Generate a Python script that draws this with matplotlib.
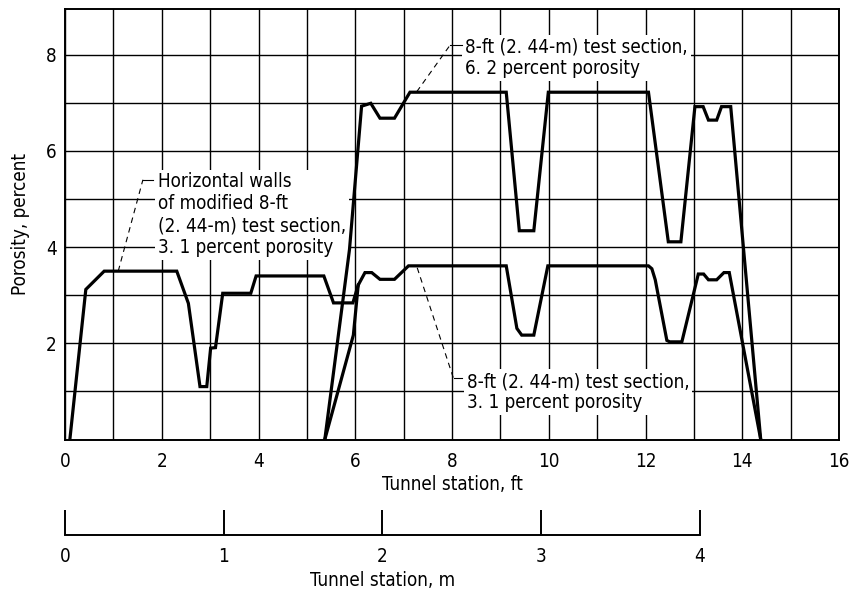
import matplotlib
matplotlib.use("Agg")
import matplotlib.pyplot as plt
import matplotlib.transforms as mtransforms

plt.rcParams["font.family"] = ["DejaVu Sans"]
plt.rcParams["font.stretch"] = "condensed"
plt.rcParams["font.size"] = 13.5

# horizontal walls of modified 8-ft section, 3.1 percent
walls_x = [0.1, 0.43, 0.81, 2.31, 2.55, 2.79, 2.93, 3.01, 3.11, 3.26, 3.84, 3.95,
           5.35, 5.55, 5.95, 6.06]
walls_y = [0.0, 3.12, 3.50, 3.50, 2.83, 1.10, 1.10, 1.90, 1.91, 3.04, 3.04, 3.40,
           3.40, 2.84, 2.84, 3.21]

# 8-ft test section, 6.2 percent
p62_x = [5.37, 5.88, 6.13, 6.32, 6.51, 6.81, 7.13, 9.12, 9.39, 9.69, 9.99, 12.06,
         12.47, 12.73, 13.02, 13.19, 13.30, 13.47, 13.57, 13.76, 14.38]
p62_y = [0.0, 3.95, 6.93, 6.99, 6.68, 6.68, 7.22, 7.22, 4.34, 4.34, 7.22, 7.22,
         4.11, 4.11, 6.92, 6.92, 6.64, 6.64, 6.92, 6.92, 0.0]

# 8-ft test section, 3.1 percent
p31_x = [5.37, 5.96, 6.06, 6.20, 6.34, 6.51, 6.81, 7.10, 9.12, 9.34, 9.44, 9.69,
         9.98, 12.06, 12.13, 12.20, 12.44, 12.50, 12.75, 13.09, 13.20, 13.30, 13.47,
         13.62, 13.73, 14.38]
p31_y = [0.0, 2.17, 3.21, 3.47, 3.47, 3.33, 3.33, 3.61, 3.61, 2.31, 2.17, 2.17,
         3.61, 3.61, 3.55, 3.32, 2.06, 2.03, 2.03, 3.44, 3.44, 3.32, 3.32,
         3.47, 3.47, 0.0]

x_ticks = list(range(0, 17))
x_tick_labels = ["0", "", "2", "", "4", "", "6", "", "8", "", "10", "", "12", "", "14", "", "16"]
y_ticks = list(range(1, 9))
y_tick_labels = ["", "2", "", "4", "", "6", "", "8"]
m_ticks = [0, 1, 2, 3, 4]
FT_PER_M = 1 / 0.3048

fig = plt.figure(figsize=(8.51, 5.92), dpi=100)
ax = fig.add_axes([0.0764, 0.2576, 0.9096, 0.7272])

for xs, ys in [(walls_x, walls_y), (p62_x, p62_y), (p31_x, p31_y)]:
    ax.plot(xs, ys, color="black", lw=2.3, solid_joinstyle="miter", zorder=3)

ax.set_xlim(0, 16)
ax.set_ylim(0, 8.95)
ax.set_xticks(x_ticks)
ax.set_xticklabels(x_tick_labels)
ax.set_yticks(y_ticks)
ax.set_yticklabels(y_tick_labels)
ax.tick_params(length=0)
ax.tick_params(axis="x", pad=9)
ax.tick_params(axis="y", pad=6)
ax.grid(True, color="black", lw=1.0)
ax.set_axisbelow(True)
for sp in ax.spines.values():
    sp.set_linewidth(1.4)

ax.set_xlabel("Tunnel station, ft")
ax.xaxis.set_label_coords(0.5, -0.083)
ax.set_ylabel("Porosity, percent")
ax.yaxis.set_label_coords(-0.045, 0.5)

box = dict(facecolor="white", edgecolor="none", pad=2)
lead = dict(color="black", lw=0.8, zorder=5)

# annotation 1
ax.plot([1.10, 1.61], [3.50, 5.40], ls=(0, (5, 4)), **lead)
ax.plot([1.61, 1.82], [5.40, 5.40], **lead)
ax.text(1.92, 4.67, "Horizontal walls\nof modified 8-ft\n(2. 44-m) test section,\n3. 1 percent porosity",
        ha="left", va="center", linespacing=1.2, bbox=box, zorder=2.5)

# annotation 2
ax.plot([7.27, 7.96], [7.23, 8.20], ls=(0, (5, 4)), **lead)
ax.plot([7.96, 8.20], [8.20, 8.20], **lead)
ax.text(8.27, 7.93, "8-ft (2. 44-m) test section,\n6. 2 percent porosity",
        ha="left", va="center", linespacing=1.15, bbox=box, zorder=2.5)

# annotation 3
ax.plot([7.28, 8.03], [3.57, 1.27], ls=(0, (5, 4)), **lead)
ax.plot([8.03, 8.20], [1.27, 1.27], **lead)
ax.text(8.30, 0.98, "8-ft (2. 44-m) test section,\n3. 1 percent porosity",
        ha="left", va="center", linespacing=1.15, bbox=box, zorder=2.5)

# metric scale
mx = fig.add_axes([0.0764, 1 - 535 / 592, 0.9096, 0.05])
mx.set_xlim(0, 16 / FT_PER_M)
mx.set_ylim(0, 1)
for side in ["left", "right", "top"]:
    mx.spines[side].set_visible(False)
mx.spines["bottom"].set_bounds(0, 4)
mx.spines["bottom"].set_linewidth(1.4)
mx.set_yticks([])
mx.set_xticks(m_ticks)
mx.set_xticklabels([str(v) for v in m_ticks])
mx.tick_params(axis="x", direction="in", length=18, width=1.4, pad=9)
mx.patch.set_alpha(0)
mx.set_xlabel("Tunnel station, m")
mx.xaxis.set_label_coords(2.0, 1 - 571 / 592,
                          transform=mtransforms.blended_transform_factory(mx.transData, fig.transFigure))

fig.savefig("out.png", dpi=100)
